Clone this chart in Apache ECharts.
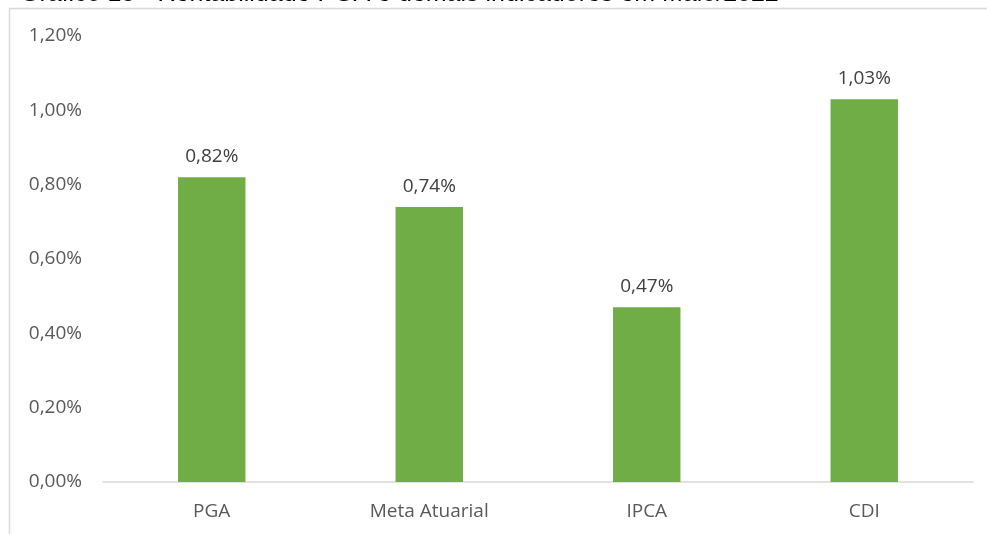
<!DOCTYPE html>
<html>
<head>
<meta charset="utf-8">
<script src="https://cdn.jsdelivr.net/npm/echarts@6/dist/echarts.min.js"></script>
<style>
html, body { margin: 0; padding: 0; background: #fff; }
#chart { width: 987px; height: 534px; }
</style>
</head>
<body>
<div id="chart"></div>
<script>
// dados do gráfico
const categorias = ['PGA', 'Meta Atuarial', 'IPCA', 'CDI'];
const valores = [0.82, 0.74, 0.47, 1.03];
const titulo = 'Gráfico 15 - Rentabilidade PGA e demais indicadores em Maio/2022';

const fmt = v => v.toFixed(2).replace('.', ',') + '%';

const chart = echarts.init(document.getElementById('chart'));

const option = {
    animation: false,
    grid: { left: 103, right: 14, top: 36, bottom: 52 },
    graphic: [
        {
            type: 'rect',
            shape: { x: 9.5, y: 8.5, width: 1000, height: 600 },
            style: { fill: 'none', stroke: '#d9d9d9', lineWidth: 1.5 },
            z: 0
        },
        {
            type: 'text',
            x: 20, y: 7,
            style: {
                text: titulo,
                font: '25px "Liberation Sans", Arial, sans-serif',
                fill: '#000',
                textVerticalAlign: 'bottom'
            },
            z: 10
        }
    ],
    xAxis: {
        type: 'category',
        data: categorias,
        axisTick: { show: false },
        axisLine: { lineStyle: { color: '#d9d9d9', width: 1.5 } },
        axisLabel: { color: '#595959', fontSize: 19, fontFamily: 'Open Sans', margin: 20 }
    },
    yAxis: {
        type: 'value',
        min: 0,
        max: 1.2,
        interval: 0.2,
        splitLine: { show: false },
        axisLine: { show: false },
        axisLabel: {
            color: '#595959', fontSize: 19, fontFamily: 'Open Sans', margin: 21,
            formatter: v => fmt(v)
        }
    },
    series: [{
        type: 'bar',
        data: valores,
        barWidth: '31%',
        itemStyle: { color: '#70ad47' },
        label: {
            show: true,
            position: 'top',
            distance: 11,
            color: '#404040',
            fontSize: 19,
            fontFamily: 'Open Sans',
            formatter: p => fmt(p.value)
        }
    }]
};

chart.setOption(option);
</script>
</body>
</html>
